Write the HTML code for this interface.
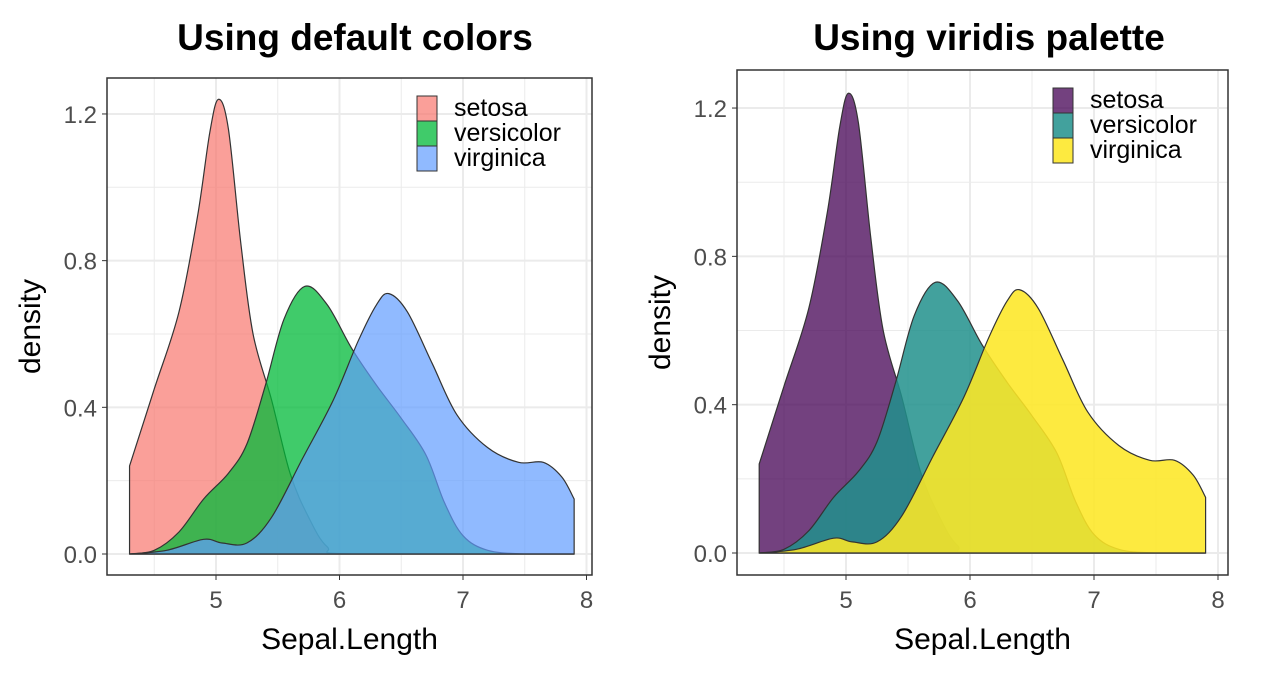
<!DOCTYPE html>
<html><head><meta charset="utf-8"><style>
html,body{margin:0;padding:0;background:#fff;width:1262px;height:685px;overflow:hidden}
svg{display:block}
text{font-family:"Liberation Sans",Arial,sans-serif}
</style></head><body>
<svg id="s" width="1262" height="685" xmlns="http://www.w3.org/2000/svg">
<text x="355" y="50" font-size="37" font-weight="bold" text-anchor="middle">Using default colors</text>
<text x="989" y="50" font-size="37" font-weight="bold" text-anchor="middle">Using viridis palette</text>
<g id="p1"></g><g id="p2"></g>
</svg>
<script>
const S=[[4.3,0.24],[4.5,0.45],[4.7,0.66],[4.85,0.92],[4.95,1.15],[5.02,1.24],[5.1,1.16],[5.2,0.85],[5.3,0.6],[5.45,0.42],[5.6,0.22],[5.75,0.1],[5.9,0.02],[6.1,0],[7.9,0]];
const V=[[4.3,0],[4.5,0.01],[4.7,0.06],[4.9,0.15],[5.1,0.22],[5.25,0.3],[5.4,0.46],[5.55,0.64],[5.72,0.73],[5.9,0.68],[6.1,0.56],[6.3,0.46],[6.5,0.37],[6.7,0.27],[6.85,0.14],[7.0,0.05],[7.2,0.01],[7.5,0],[7.9,0]];
const G=[[4.3,0],[4.6,0.01],[4.9,0.04],[5.05,0.03],[5.25,0.03],[5.45,0.1],[5.7,0.26],[5.95,0.42],[6.15,0.58],[6.3,0.68],[6.4,0.71],[6.55,0.66],[6.75,0.52],[6.95,0.38],[7.2,0.29],[7.45,0.25],[7.65,0.25],[7.8,0.21],[7.9,0.15]];
function path(pts,fx,fy){
  let d=`M${fx(pts[0][0])},${fy(0)}L${fx(pts[0][0])},${fy(pts[0][1])}`;
  for(let i=0;i<pts.length-1;i++){
    const p0=pts[Math.max(0,i-1)],p1=pts[i],p2=pts[i+1],p3=pts[Math.min(pts.length-1,i+2)];
    const c1=[p1[0]+(p2[0]-p0[0])/6,p1[1]+(p2[1]-p0[1])/6],c2=[p2[0]-(p3[0]-p1[0])/6,p2[1]-(p3[1]-p1[1])/6];
    d+=`C${fx(c1[0])},${fy(Math.max(0,c1[1]))} ${fx(c2[0])},${fy(Math.max(0,c2[1]))} ${fx(p2[0])},${fy(p2[1])}`;
  }
  d+=`L${fx(pts[pts.length-1][0])},${fy(0)}Z`;return d;
}
function panel(id,L,T,R,B,x5,xu,y0,yu,cols,ops){
  const fx=x=>x5+(x-5)*xu, fy=y=>y0-y*yu;
  let h=`<rect x="${L}" y="${T}" width="${R-L}" height="${B-T}" fill="#fff"/>`;
  for(let v=4.5;v<=8;v+=0.5){const x=fx(v);h+=`<line x1="${x}" x2="${x}" y1="${T}" y2="${B}" stroke="#ebebeb" stroke-width="${v%1?1:2}"/>`;}
  for(let v=0;v<=1.21;v+=0.2){const y=fy(v);h+=`<line x1="${L}" x2="${R}" y1="${y}" y2="${y}" stroke="#ebebeb" stroke-width="${Math.round(v*10)%4?1:2}"/>`;}
  [S,V,G].forEach((p,i)=>{h+=`<path d="${path(p,fx,fy)}" fill="${cols[i]}" fill-opacity="${ops[i]}" stroke="#333" stroke-width="1.2"/>`;});
  h+=`<rect x="${L}" y="${T}" width="${R-L}" height="${B-T}" fill="none" stroke="#333" stroke-width="1.5"/>`;
  [0,0.4,0.8,1.2].forEach(v=>{const y=fy(v);h+=`<line x1="${L-5}" x2="${L}" y1="${y}" y2="${y}" stroke="#333"/><text x="${L-10}" y="${y+9}" font-size="24" fill="#4d4d4d" text-anchor="end">${v.toFixed(1)}</text>`;});
  [5,6,7,8].forEach(v=>{const x=fx(v);h+=`<line x1="${x}" x2="${x}" y1="${B}" y2="${B+5}" stroke="#333"/><text x="${x}" y="${B+33}" font-size="24" fill="#4d4d4d" text-anchor="middle">${v}</text>`;});
  h+=`<text x="${(L+R)/2}" y="${B+74}" font-size="30" text-anchor="middle">Sepal.Length</text>`;
  h+=`<text transform="translate(${L-67},${(T+B)/2}) rotate(-90)" font-size="30" text-anchor="middle">density</text>`;
  const lx=R-175,ly=T+18;
  ["setosa","versicolor","virginica"].forEach((n,i)=>{const y=ly+i*25;h+=`<rect x="${lx}" y="${y}" width="20" height="25" fill="${cols[i]}" fill-opacity="${ops[i]}" stroke="#333"/><text x="${lx+37}" y="${y+20}" font-size="25">${n}</text>`;});
  document.getElementById(id).innerHTML=h;
}
panel("p1",107,78,592,575,216,123.5,554,366.7,["#F8766D","#00BA38","#619CFF"],[0.7,0.75,0.7]);
panel("p2",737,70,1228,575,846,124,553,370.8,["#440154","#21908C","#FDE725"],[0.75,0.85,0.88]);
</script>
</body></html>
